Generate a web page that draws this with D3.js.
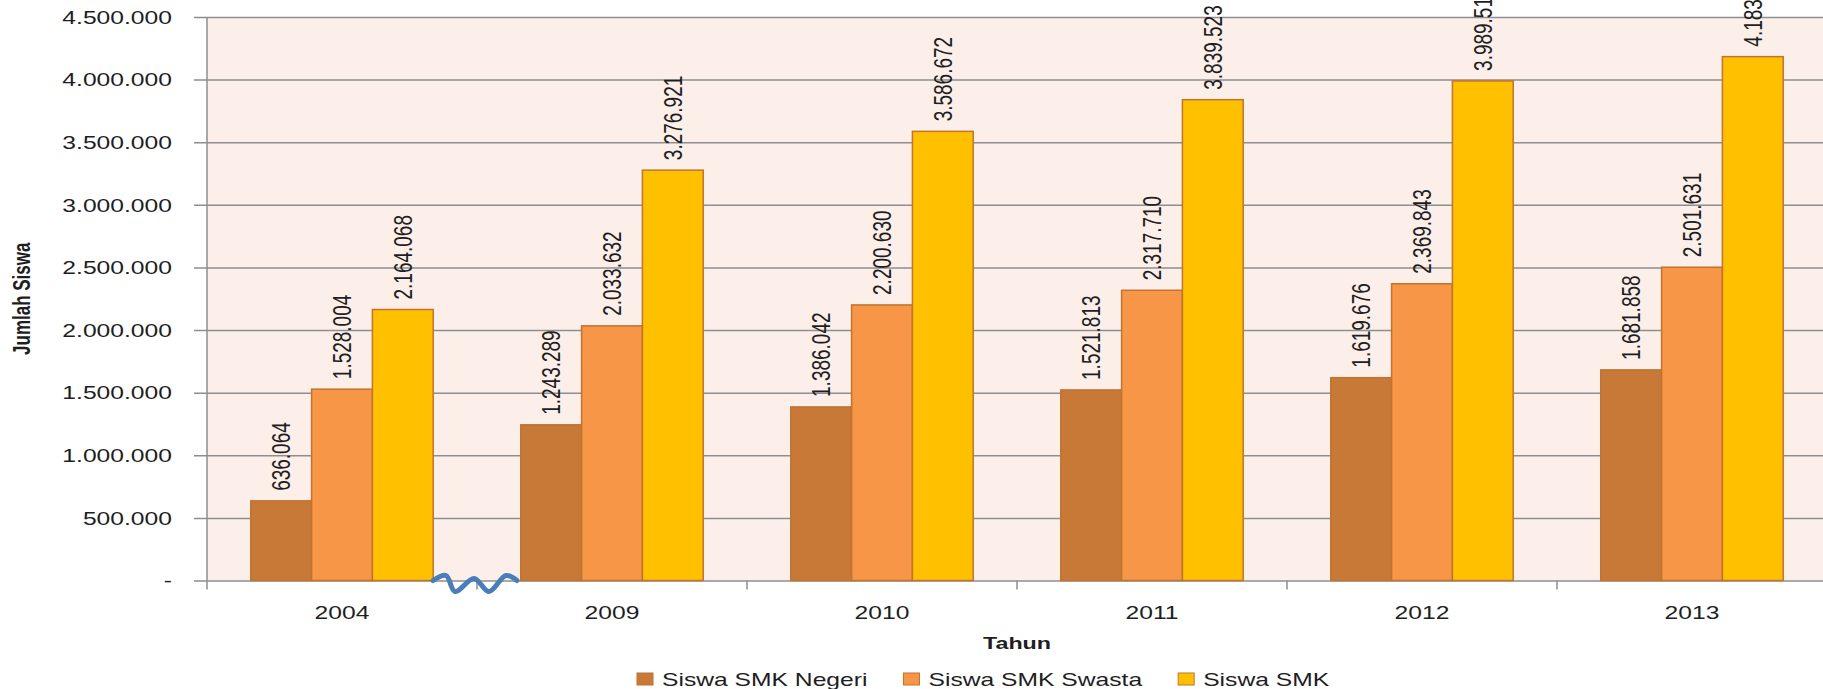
<!DOCTYPE html>
<html>
<head>
<meta charset="utf-8">
<script src="https://cdn.jsdelivr.net/npm/d3@7"></script>
<style>
  body { margin: 0; background: #fff; }
  text { font-family: "Liberation Sans", Arial, sans-serif; fill: #1e1e1e; }
</style>
</head>
<body>
<div class="chart"></div>
<script>
// data
var years = ["2004", "2009", "2010", "2011", "2012", "2013"];
var seriesNames = ["Siswa SMK Negeri", "Siswa SMK Swasta", "Siswa SMK"];
var negeri = [636064, 1243289, 1386042, 1521813, 1619676, 1681858];
var swasta = [1528004, 2033632, 2200630, 2317710, 2369843, 2501631];
var smk = [2164068, 3276921, 3586672, 3839523, 3989519, 4183489];
var yTicks = [0, 500000, 1000000, 1500000, 2000000, 2500000, 3000000, 3500000, 4000000, 4500000];
var colors = ["#c87837", "#f79646", "#ffc000"];

var W = 1823, H = 689;
var margin = {top: 17, left: 207};
var bandW = 270;
var plotRight = margin.left + bandW * years.length;
var zeroY = 580.5;
var sx = 1.37; // the original picture is stretched sideways

var locale = d3.formatLocale({decimal: ",", thousands: ".", grouping: [3], currency: ["", ""]});
var fmt = locale.format(",d");

var rows = years.map(function(y, i) { return {year: y, vals: [negeri[i], swasta[i], smk[i]]}; });

var x0 = d3.scaleBand().domain(years).range([margin.left, plotRight]).padding(0);
var x1 = d3.scaleBand().domain(seriesNames).range([0, x0.bandwidth()]).paddingInner(0).paddingOuter(0.72);
var yScale = d3.scaleLinear().domain([0, 4500000]).range([zeroY, margin.top]);

var svg = d3.select(".chart").append("svg")
  .attr("width", W).attr("height", H);

// plot background
svg.append("rect")
  .attr("x", margin.left).attr("y", yScale(4500000))
  .attr("width", plotRight - margin.left).attr("height", zeroY - yScale(4500000))
  .attr("fill", "#fcefea");

// y axis with gridlines
var yAxis = d3.axisLeft(yScale).tickValues(yTicks).tickSize(13).tickSizeOuter(0)
  .tickFormat(function(d) { return d === 0 ? "-" : fmt(d); });
var gy = svg.append("g").attr("transform", "translate(" + margin.left + ",0)").call(yAxis);
gy.select(".domain").remove();
gy.selectAll(".tick line").attr("stroke", "#8e8e8e").attr("stroke-width", 1.5)
  .attr("x2", plotRight - margin.left).attr("x1", -13);
gy.selectAll(".tick text")
  .attr("x", null).attr("dy", "0.35em")
  .attr("transform", "translate(-35,0) scale(" + sx + ",1)")
  .style("font-size", "18px").style("fill", "#1e1e1e").attr("text-anchor", "end");

// vertical axis line
svg.append("line")
  .attr("x1", margin.left).attr("x2", margin.left)
  .attr("y1", yScale(4500000)).attr("y2", zeroY + 9)
  .attr("stroke", "#8e8e8e").attr("stroke-width", 1.5);

// category boundary ticks
svg.selectAll(".xtick")
  .data(years.slice(1))
  .enter().append("line")
  .attr("class", "xtick")
  .attr("x1", function(d) { return x0(d); }).attr("x2", function(d) { return x0(d); })
  .attr("y1", zeroY).attr("y2", zeroY + 9)
  .attr("stroke", "#8e8e8e").attr("stroke-width", 1.5);

// bars
var groups = svg.selectAll(".grp")
  .data(rows)
  .enter().append("g")
  .attr("class", "grp")
  .attr("transform", function(d) { return "translate(" + x0(d.year) + ",0)"; });

groups.selectAll("rect")
  .data(function(d) { return d.vals.map(function(v, i) { return {name: seriesNames[i], v: v, i: i}; }); })
  .enter().append("rect")
  .attr("x", function(d) { return x1(d.name); })
  .attr("y", function(d) { return yScale(d.v); })
  .attr("width", x1.bandwidth())
  .attr("height", function(d) { return zeroY - yScale(d.v); })
  .attr("fill", function(d) { return colors[d.i]; })
  .attr("stroke", "#c07430")
  .attr("stroke-width", 1.5);

groups.selectAll(".lbl")
  .data(function(d) { return d.vals.map(function(v, i) { return {name: seriesNames[i], v: v}; }); })
  .enter().append("text")
  .attr("class", "lbl")
  .attr("transform", function(d) {
    return "translate(" + (x1(d.name) + x1.bandwidth() / 2) + "," + (yScale(d.v) - 10) + ") scale(" + sx + ",1) rotate(-90)";
  })
  .attr("dy", "0.35em")
  .style("font-size", "19px")
  .text(function(d) { return fmt(d.v); });

// x axis labels
var xAxis = d3.axisBottom(x0).tickSize(0).tickSizeOuter(0);
var gx = svg.append("g").attr("transform", "translate(0," + zeroY + ")").call(xAxis);
gx.select(".domain").remove();
gx.selectAll(".tick text")
  .attr("y", null).attr("dy", null)
  .attr("transform", "translate(0,38) scale(" + sx + ",1)")
  .style("font-size", "18px").style("fill", "#1e1e1e");

// axis break mark between 2004 and 2009
var bx = x0("2009");
var breakPts = [[-44, 0], [-31, -5], [-22, 11], [-3, -2], [12, 11], [29, -5], [40, 0]];
svg.append("path")
  .attr("d", d3.line().curve(d3.curveCatmullRom)
    .x(function(d) { return bx + d[0]; })
    .y(function(d) { return zeroY + d[1]; })(breakPts))
  .attr("fill", "none").attr("stroke", "#4a7ebb").attr("stroke-width", 5)
  .attr("stroke-linecap", "round").attr("stroke-linejoin", "round");

// axis titles
svg.append("text")
  .attr("transform", "translate(" + ((margin.left + plotRight) / 2) + ",649) scale(" + sx + ",1)")
  .attr("text-anchor", "middle")
  .style("font-size", "17px").style("font-weight", "bold")
  .text("Tahun");

svg.append("text")
  .attr("transform", "translate(22," + ((margin.top + zeroY) / 2) + ") scale(" + sx + ",1) rotate(-90)")
  .attr("text-anchor", "middle").attr("dy", "0.35em")
  .style("font-size", "17px").style("font-weight", "bold")
  .text("Jumlah Siswa");

// legend
var legend = svg.append("g").attr("transform", "translate(637,673)");
var lx = 0;
seriesNames.forEach(function(name, i) {
  var item = legend.append("g").attr("transform", "translate(" + lx + ",0)");
  item.append("rect")
    .attr("width", 16).attr("height", 12)
    .attr("fill", colors[i]).attr("stroke", "#c07430").attr("stroke-width", 1);
  var t = item.append("text")
    .attr("transform", "translate(25,13) scale(" + sx + ",1)")
    .style("font-size", "18px")
    .text(name);
  lx += 25 + t.node().getComputedTextLength() * sx + 36;
});
</script>
</body>
</html>
